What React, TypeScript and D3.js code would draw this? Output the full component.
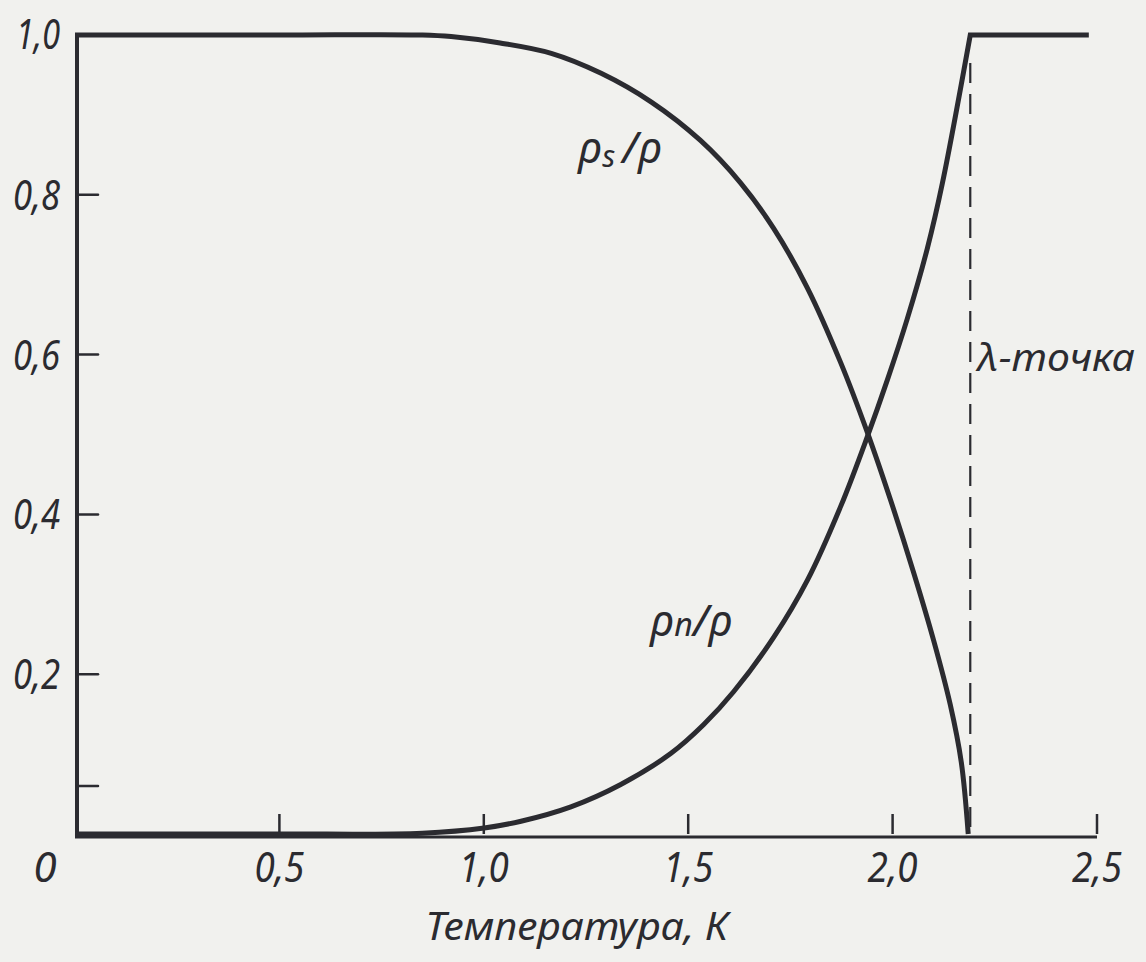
import React from "react";
import * as d3 from "d3";

// Superfluid / normal fraction of liquid helium vs temperature (two-fluid model)
const rhoSTemps = [0, 0.5, 0.85, 0.92, 1.04, 1.165, 1.287, 1.41, 1.53, 1.628, 1.709, 1.792, 1.873, 1.938, 1.995, 2.051, 2.1, 2.141, 2.168, 2.185];
const rhoSValues = [1, 1, 1, 0.998, 0.99, 0.977, 0.952, 0.916, 0.868, 0.815, 0.758, 0.683, 0.59, 0.503, 0.418, 0.328, 0.243, 0.162, 0.09, 0];

const rhoNTemps = [0, 0.5, 0.85, 1.001, 1.091, 1.213, 1.335, 1.458, 1.538, 1.611, 1.709, 1.792, 1.873, 1.938, 1.987, 2.036, 2.085, 2.122, 2.19];
const rhoNValues = [0, 0, 0.001, 0.0075, 0.016, 0.034, 0.062, 0.101, 0.137, 0.178, 0.246, 0.318, 0.41, 0.497, 0.568, 0.645, 0.733, 0.815, 1];
// above the lambda point the whole liquid is normal
const rhoNAboveLambda = [2.48, 1];

const lambdaPoint = 2.19;

const xTicks = [0.5, 1.0, 1.5, 2.0, 2.5];
const xTickLabels = ["0,5", "1,0", "1,5", "2,0", "2,5"];
const yTicks = [0.2, 0.4, 0.6, 0.8];
const yMinorTicks = [0.06];
const yTickLabels = ["0,2", "0,4", "0,6", "0,8"];

const W = 1146;
const H = 962;
const INK = "#2b2b30";
const PAPER = "#f1f1ee";
const FONT = "'Noto Sans', 'DejaVu Sans', sans-serif";

export default function App() {
  const x = d3.scaleLinear().domain([0, 2.5]).range([75, 1097]);
  const y = d3.scaleLinear().domain([0, 1]).range([834, 35]);

  const line = d3
    .line<[number, number]>()
    .x((d) => x(d[0]))
    .y((d) => y(d[1]))
    .curve(d3.curveCatmullRom.alpha(0.5));

  const sPath = line(rhoSTemps.map((t, i) => [t, rhoSValues[i]]) as [number, number][]) || "";
  const nPath =
    (line(rhoNTemps.map((t, i) => [t, rhoNValues[i]]) as [number, number][]) || "") +
    `L${x(rhoNAboveLambda[0])},${y(rhoNAboveLambda[1])}`;

  return (
    <svg
      width={W}
      height={H}
      style={{ position: "absolute", left: 0, top: 0, background: PAPER }}
    >
      <rect x={0} y={0} width={W} height={H} fill={PAPER} />

      {/* axes */}
      <line x1={x(0) + 2} x2={x(0) + 2} y1={y(1)} y2={y(0) + 4} stroke={INK} strokeWidth={4} />
      <line x1={x(0)} x2={x(2.5)} y1={y(0) + 3} y2={y(0) + 3} stroke={INK} strokeWidth={3} />

      {/* x ticks */}
      {xTicks.map((t) => (
        <line key={"xt" + t} x1={x(t)} x2={x(t)} y1={y(0)} y2={y(0) - 20} stroke={INK} strokeWidth={2.5} />
      ))}
      {/* y ticks */}
      {[...yTicks, ...yMinorTicks].map((t) => (
        <line
          key={"yt" + t}
          x1={x(0) + 2}
          x2={x(0) + 23}
          y1={y(t)}
          y2={y(t)}
          stroke={INK}
          strokeWidth={2.5}
          strokeLinecap="round"
        />
      ))}

      {/* tick labels */}
      <g fill={INK} fontFamily={FONT} fontStyle="italic" fontSize={42}>
        {xTicks.map((t, i) => (
          <text key={"xl" + t} x={x(t)} y={882} textAnchor="middle" textLength={50} lengthAdjust="spacingAndGlyphs">
            {xTickLabels[i]}
          </text>
        ))}
        <text x={45} y={882} textAnchor="middle">0</text>
        <text x={60} y={y(1) + 14} textAnchor="end" textLength={44} lengthAdjust="spacingAndGlyphs">1,0</text>
        {yTicks.map((t, i) => (
          <text key={"yl" + t} x={60} y={y(t) + 15} textAnchor="end" textLength={47} lengthAdjust="spacingAndGlyphs">
            {yTickLabels[i]}
          </text>
        ))}
      </g>

      {/* lambda point */}
      <line
        x1={x(lambdaPoint)}
        x2={x(lambdaPoint)}
        y1={y(1) + 28}
        y2={y(0)}
        stroke={INK}
        strokeWidth={2.2}
        strokeDasharray="20 11"
      />

      {/* curves */}
      <path d={sPath} fill="none" stroke={INK} strokeWidth={5} strokeLinejoin="round" />
      <path d={nPath} fill="none" stroke={INK} strokeWidth={5} strokeLinejoin="miter" />

      {/* annotations */}
      <g fill={INK} fontFamily={FONT} fontStyle="italic">
        <text x={578} y={163} fontSize={44}>
          ρ<tspan fontSize={30} dy={4}>s</tspan>
          <tspan dy={-4} dx={7}>/ρ</tspan>
        </text>
        <text x={650} y={636} fontSize={44}>
          ρ<tspan fontSize={32}>n</tspan>/ρ
        </text>
        <text x={977} y={371} fontSize={38} textLength={158} lengthAdjust="spacingAndGlyphs">λ-точка</text>
        <text x={425} y={940} fontSize={38} textLength={303} lengthAdjust="spacingAndGlyphs">Температура, К</text>
      </g>
    </svg>
  );
}
